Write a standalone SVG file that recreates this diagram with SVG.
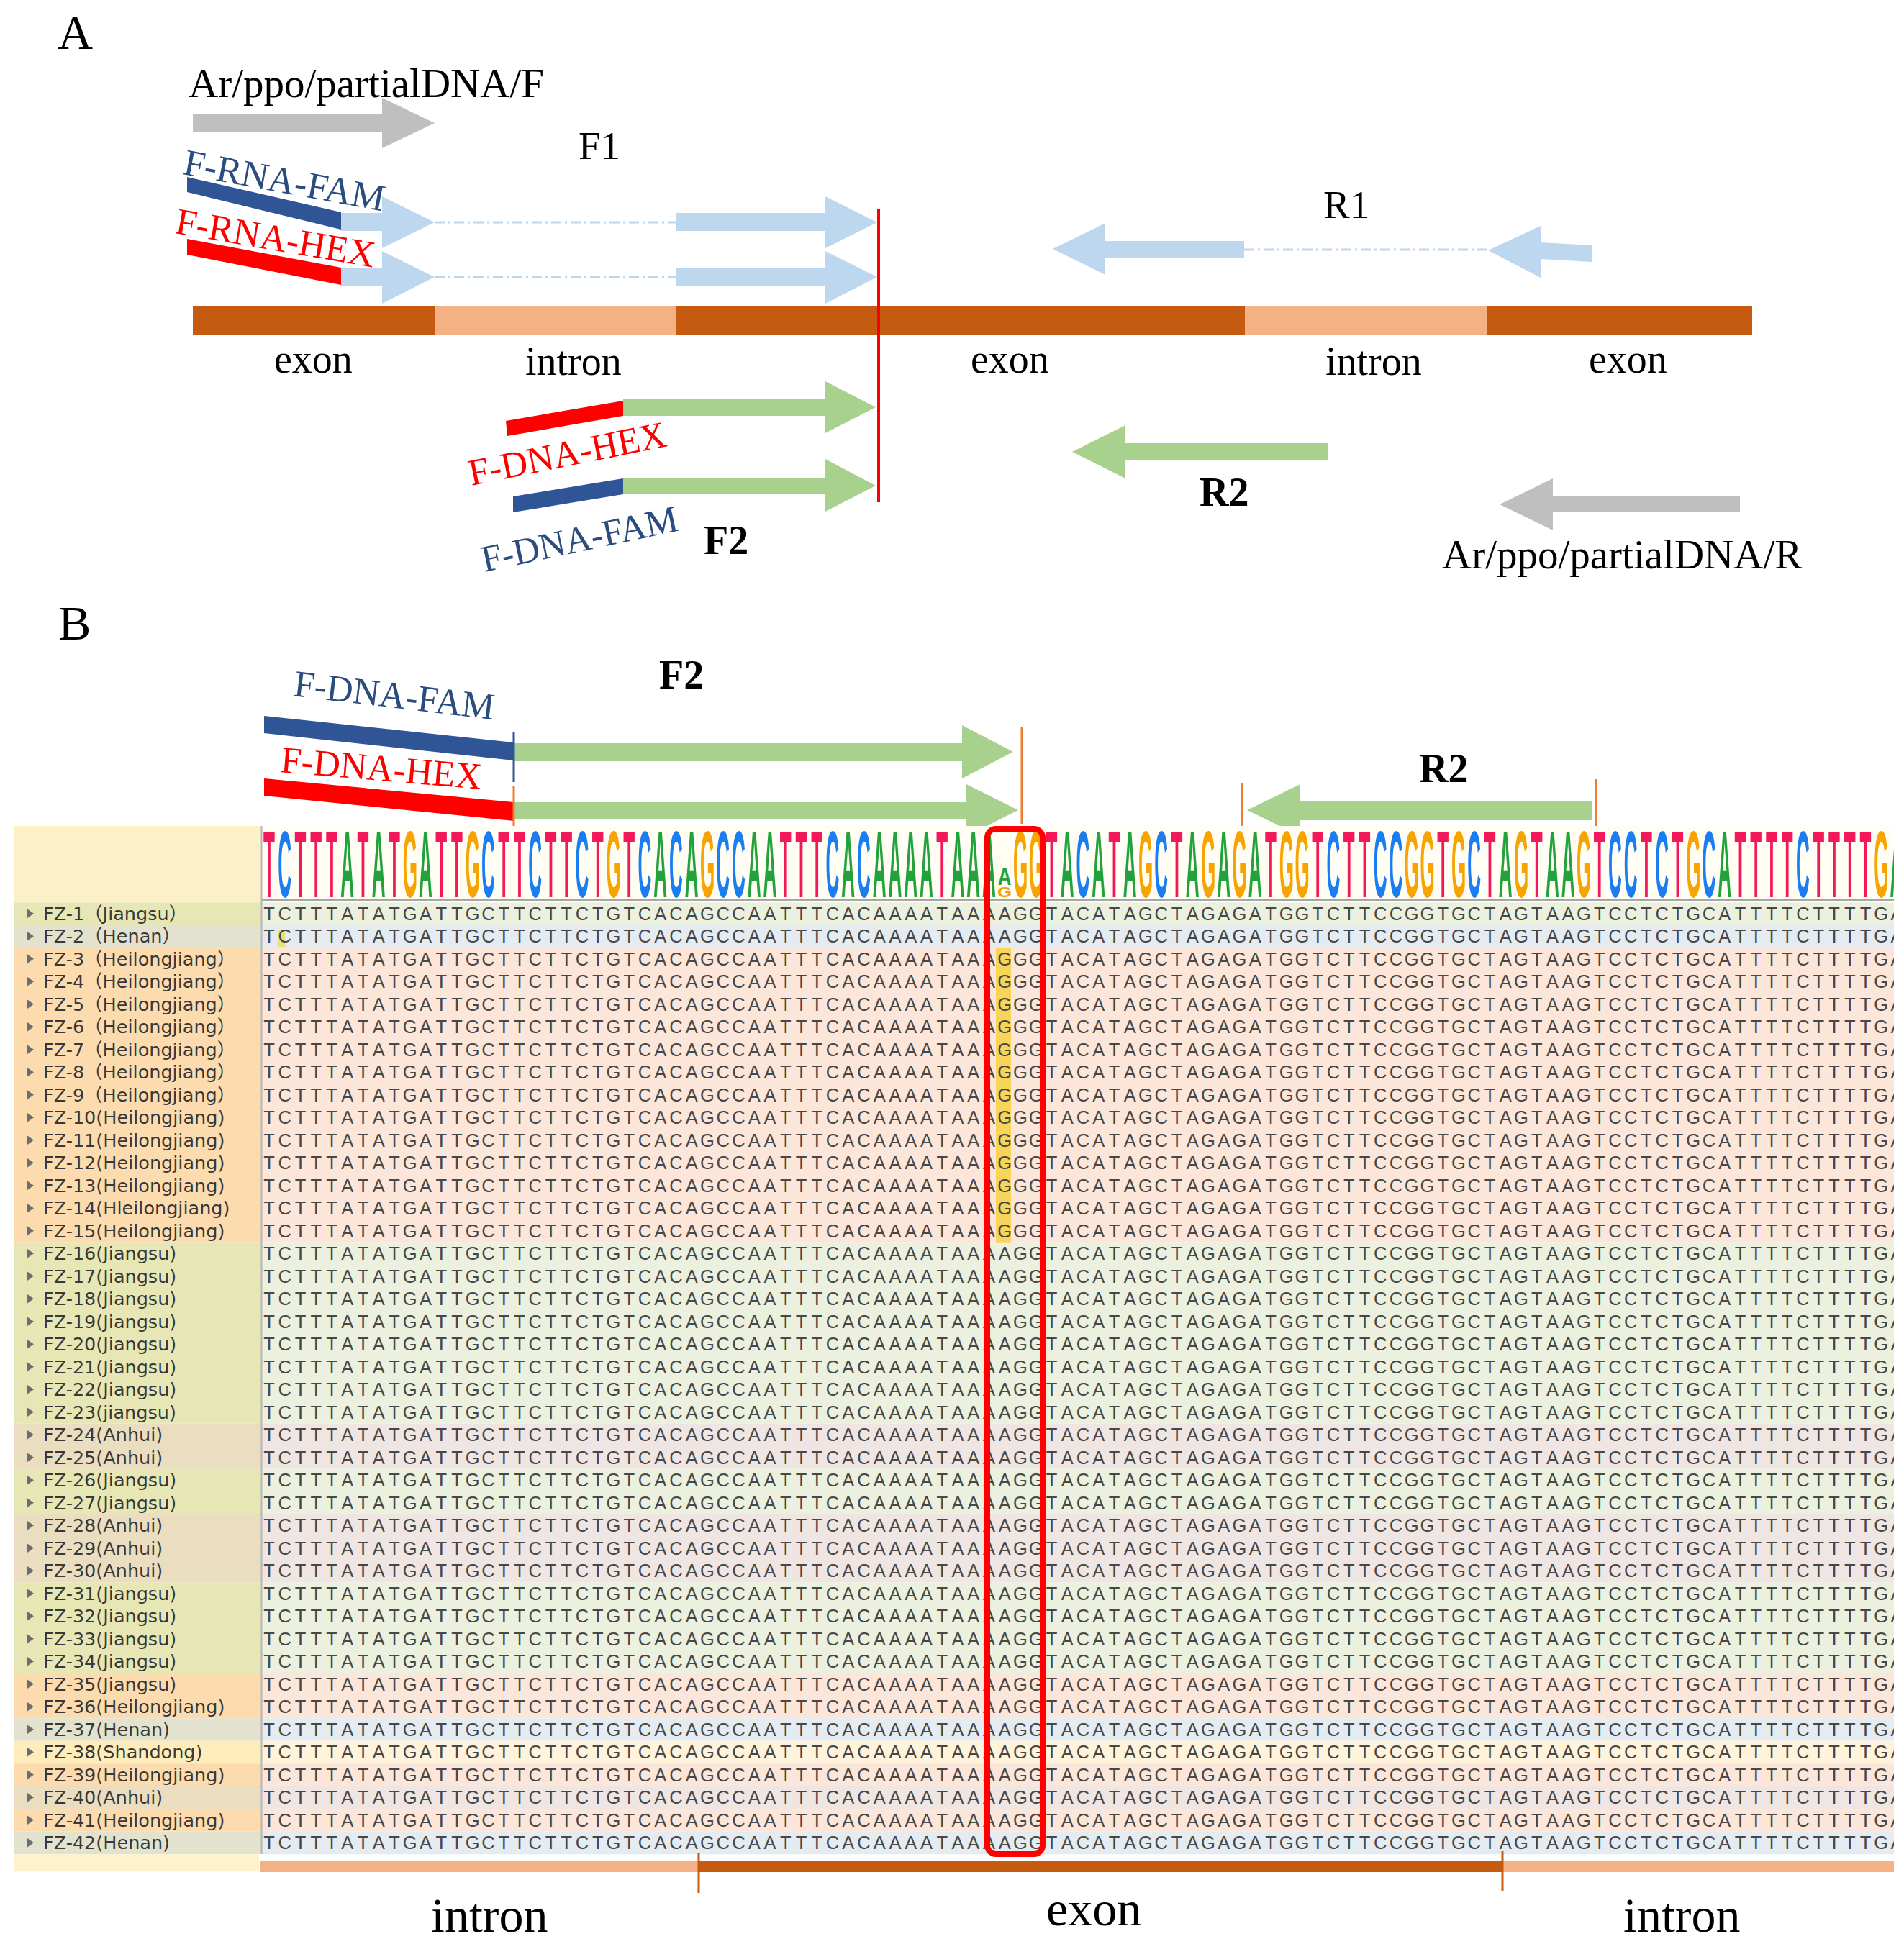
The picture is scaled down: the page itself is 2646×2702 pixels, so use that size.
<svg xmlns="http://www.w3.org/2000/svg" width="2646" height="2702" viewBox="0 0 2646 2702">
<defs>
<style>
.serif{font-family:"Liberation Serif","Times New Roman",serif;fill:#000}
.fam{fill:#2B4C7E}
.hex{fill:#FF0000}
.lb{fill:#BDD7EE}
.gr{fill:#A9D18E}
.gy{fill:#BFBFBF}
.dd{stroke:#BDD7EE;stroke-width:3;stroke-dasharray:14 5 3 5;fill:none}
.ex{fill:#C55A11}
.in{fill:#F4B183}
.lbl{font-family:"DejaVu Sans","Noto Sans CJK SC",sans-serif;font-size:25.5px;fill:#383838}
.logo{font-family:"Liberation Sans",Arial,sans-serif;font-size:26px;font-weight:bold;text-anchor:middle}
.a{fill:#22A23A}.c{fill:#1A7EF2}.g{fill:#F7A400}.t{fill:#F2185A}
.tri{fill:#6E6E6E}
.ol{stroke:#ED7D31;stroke-width:3}
.jl{fill:#E7E7B6}.js{fill:#EBF1DE}
.hl{fill:#E3E2CE}.hs{fill:#E4EBF1}
.ll{fill:#FCDCAF}.ls{fill:#FCE6D9}
.nl{fill:#EADDC0}.ns{fill:#EFE6E4}
.sl{fill:#FEEDBA}.ss{fill:#FFF3DB}
</style>
<clipPath id="seqclip"><rect x="364" y="-10000" width="2268" height="20000"/></clipPath>
<path id="tri" class="tri" d="M37,-7 L47,0 L37,7Z"/>
<text id="rowA" font-family="Liberation Sans, Arial, sans-serif" font-size="25.5" fill="#474747" text-anchor="middle" x="374 395.75 417.5 439.25 461 482.75 504.5 526.25 548 569.75 591.5 613.25 635 656.75 678.5 700.25 722 743.75 765.5 787.25 809 830.75 852.5 874.25 896 917.75 939.5 961.25 983 1004.75 1026.5 1048.25 1070 1091.75 1113.5 1135.25 1157 1178.75 1200.5 1222.25 1244 1265.75 1287.5 1309.25 1331 1352.75 1374.5 1396.25 1418 1439.75 1461.5 1483.25 1505 1526.75 1548.5 1570.25 1592 1613.75 1635.5 1657.25 1679 1700.75 1722.5 1744.25 1766 1787.75 1809.5 1831.25 1853 1874.75 1896.5 1918.25 1940 1961.75 1983.5 2005.25 2027 2048.75 2070.5 2092.25 2114 2135.75 2157.5 2179.25 2201 2222.75 2244.5 2266.25 2288 2309.75 2331.5 2353.25 2375 2396.75 2418.5 2440.25 2462 2483.75 2505.5 2527.25 2549 2570.75 2592.5 2614.25 2636" y="0">TCTTTATATGATTGCTTCTTCTGTCACAGCCAATTTCACAAAATAAAAGGTACATAGCTAGAGATGGTCTTCCGGTGCTAGTAAGTCCTCTGCATTTTCTTTTGA</text>
<text id="rowG" font-family="Liberation Sans, Arial, sans-serif" font-size="25.5" fill="#474747" text-anchor="middle" x="374 395.75 417.5 439.25 461 482.75 504.5 526.25 548 569.75 591.5 613.25 635 656.75 678.5 700.25 722 743.75 765.5 787.25 809 830.75 852.5 874.25 896 917.75 939.5 961.25 983 1004.75 1026.5 1048.25 1070 1091.75 1113.5 1135.25 1157 1178.75 1200.5 1222.25 1244 1265.75 1287.5 1309.25 1331 1352.75 1374.5 1396.25 1418 1439.75 1461.5 1483.25 1505 1526.75 1548.5 1570.25 1592 1613.75 1635.5 1657.25 1679 1700.75 1722.5 1744.25 1766 1787.75 1809.5 1831.25 1853 1874.75 1896.5 1918.25 1940 1961.75 1983.5 2005.25 2027 2048.75 2070.5 2092.25 2114 2135.75 2157.5 2179.25 2201 2222.75 2244.5 2266.25 2288 2309.75 2331.5 2353.25 2375 2396.75 2418.5 2440.25 2462 2483.75 2505.5 2527.25 2549 2570.75 2592.5 2614.25 2636" y="0">TCTTTATATGATTGCTTCTTCTGTCACAGCCAATTTCACAAAATAAAGGGTACATAGCTAGAGATGGTCTTCCGGTGCTAGTAAGTCCTCTGCATTTTCTTTTGA</text>
</defs>
<rect x="0" y="0" width="2646" height="2702" fill="#FFFFFF"/>

<!-- ===== Panel A ===== -->
<g id="panelA-label"><text class="serif" x="80" y="68" font-size="68">A</text></g>

<g id="gene-A">
<rect class="ex" x="268" y="425" width="2167" height="41"/>
<rect class="in" x="605" y="425" width="335" height="41"/>
<rect class="in" x="1730" y="425" width="336" height="41"/>
<text class="serif" x="381" y="518" font-size="56">exon</text>
<text class="serif" x="730" y="521" font-size="56">intron</text>
<text class="serif" x="1349" y="518" font-size="56">exon</text>
<text class="serif" x="1842" y="521" font-size="56">intron</text>
<text class="serif" x="2208" y="518" font-size="56">exon</text>
</g>

<g id="primer-partialDNA-F">
<polygon class="gy" points="268,158 531,158 531,136 604,171 531,206 531,184 268,184"/>
<text class="serif" x="262" y="135" font-size="57">Ar/ppo/partialDNA/F</text>
</g>

<g id="primer-F1">
<text class="serif" x="804" y="221" font-size="55">F1</text>
<polygon fill="#2F5597" points="260,246 474,295 474,319 260,267"/>
<polygon fill="#FF0000" points="260,332 474,372 474,396 260,354"/>
<polygon class="lb" points="474,296 531,296 531,273 604,309 531,345 531,321 474,321"/>
<polygon class="lb" points="939,296 1147,296 1147,273 1219,309 1147,345 1147,321 939,321"/>
<polygon class="lb" points="474,373 531,373 531,349 604,385 531,422 531,398 474,398"/>
<polygon class="lb" points="939,373 1147,373 1147,349 1219,385 1147,422 1147,398 939,398"/>
<text class="serif fam" font-size="52" transform="translate(253,242) rotate(10.5)" textLength="283" lengthAdjust="spacingAndGlyphs">F-RNA-FAM</text>
<text class="serif hex" font-size="52" transform="translate(242,324) rotate(9.8)" textLength="280" lengthAdjust="spacingAndGlyphs">F-RNA-HEX</text>
</g>

<g id="primer-R1">
<text class="serif" x="1839" y="303" font-size="55">R1</text>
<polygon class="lb" points="1463,346 1536,310 1536,335 1729,335 1729,358 1536,358 1536,382"/>
<polygon class="lb" points="2068,348 2141,314 2141,337 2212,341 2212,364 2141,360 2141,386"/>
</g>

<g id="primer-F2-A">
<polygon fill="#FF0000" points="703,585 866,557 866,578 705,606"/>
<polygon fill="#2F5597" points="713,690 866,665 866,687 713,712"/>
<polygon class="gr" points="866,555 1147,555 1147,530 1217,566 1147,602 1147,578 866,578"/>
<polygon class="gr" points="866,664 1147,664 1147,638 1217,675 1147,711 1147,687 866,687"/>
<text class="serif hex" font-size="52" transform="translate(655,675) rotate(-11.4)" textLength="279" lengthAdjust="spacingAndGlyphs">F-DNA-HEX</text>
<text class="serif fam" font-size="52" transform="translate(673,795) rotate(-12)" textLength="278" lengthAdjust="spacingAndGlyphs">F-DNA-FAM</text>
<text class="serif" x="978" y="770" font-size="56" font-weight="bold">F2</text>
</g>

<g id="primer-R2-A">
<polygon class="gr" points="1490,628 1564,591 1564,616 1845,616 1845,640 1564,640 1564,665"/>
<text class="serif" x="1667" y="703" font-size="56" font-weight="bold">R2</text>
</g>

<g id="primer-partialDNA-R">
<polygon class="gy" points="2084,701 2158,665 2158,689 2418,689 2418,712 2158,712 2158,737"/>
<text class="serif" x="2004" y="790" font-size="57">Ar/ppo/partialDNA/R</text>
</g>

<g id="connectors-A">
<line class="dd" x1="604" y1="309" x2="939" y2="309"/>
<line class="dd" x1="604" y1="385" x2="939" y2="385"/>
<line class="dd" x1="1729" y1="347" x2="2068" y2="347"/>
<line x1="1221" y1="290" x2="1221" y2="698" stroke="#FF0000" stroke-width="4"/>
</g>

<!-- ===== Panel B ===== -->
<g id="panelB-label"><text class="serif" x="81" y="889" font-size="68">B</text></g>

<g id="primer-F2-B">
<polygon fill="#2F5597" points="367,995 714,1032 714,1057 367,1019"/>
<polygon fill="#FF0000" points="367,1082 714,1115 714,1141 367,1106"/>
<polygon class="gr" points="714,1033 1337,1033 1337,1008 1408,1045 1337,1082 1337,1058 714,1058"/>
<polygon class="gr" points="714,1115 1343,1115 1343,1090 1415,1126 1343,1162 1343,1138 714,1138"/>
<text class="serif fam" font-size="52" transform="translate(407,967) rotate(6.8)" textLength="280" lengthAdjust="spacingAndGlyphs">F-DNA-FAM</text>
<text class="serif hex" font-size="52" transform="translate(389,1073) rotate(4.9)" textLength="280" lengthAdjust="spacingAndGlyphs">F-DNA-HEX</text>
<text class="serif" x="916" y="957" font-size="56" font-weight="bold">F2</text>
</g>

<g id="primer-R2-B">
<polygon class="gr" points="1733,1126 1807,1090 1807,1113 2213,1113 2213,1140 1807,1140 1807,1162"/>
<text class="serif" x="1972" y="1087" font-size="56" font-weight="bold">R2</text>
</g>

<g id="markers-B">
<line x1="714" y1="1017" x2="714" y2="1087" stroke="#2F5597" stroke-width="3"/>
<line class="ol" x1="714" y1="1092" x2="714" y2="1162"/>
<line class="ol" x1="1420" y1="1011" x2="1420" y2="1145"/>
<line class="ol" x1="1726" y1="1089" x2="1726" y2="1153"/>
<line class="ol" x1="2218" y1="1083" x2="2218" y2="1173"/>
</g>

<g id="alignment-header">
<rect x="20" y="1148" width="343" height="106" fill="#FDEFC6"/>
<rect x="364" y="1148" width="2268" height="104" fill="#FFFDF4"/>
<line x1="364" y1="1251.5" x2="2632" y2="1251.5" stroke="#A6A6A6" stroke-width="3"/>
</g>

<g id="row-backgrounds">
<rect class="jl" x="20" y="1254.25" width="343" height="31.5"/><rect class="js" x="364" y="1254.25" width="2268" height="31.5"/>
<rect class="hl" x="20" y="1285.75" width="343" height="31.5"/><rect class="hs" x="364" y="1285.75" width="2268" height="31.5"/>
<rect class="ll" x="20" y="1317.25" width="343" height="409.5"/><rect class="ls" x="364" y="1317.25" width="2268" height="409.5"/>
<rect class="jl" x="20" y="1726.75" width="343" height="252"/><rect class="js" x="364" y="1726.75" width="2268" height="252"/>
<rect class="nl" x="20" y="1978.75" width="343" height="63"/><rect class="ns" x="364" y="1978.75" width="2268" height="63"/>
<rect class="jl" x="20" y="2041.75" width="343" height="63"/><rect class="js" x="364" y="2041.75" width="2268" height="63"/>
<rect class="nl" x="20" y="2104.75" width="343" height="94.5"/><rect class="ns" x="364" y="2104.75" width="2268" height="94.5"/>
<rect class="jl" x="20" y="2199.25" width="343" height="126"/><rect class="js" x="364" y="2199.25" width="2268" height="126"/>
<rect class="ll" x="20" y="2325.25" width="343" height="63"/><rect class="ls" x="364" y="2325.25" width="2268" height="63"/>
<rect class="hl" x="20" y="2388.25" width="343" height="31.5"/><rect class="hs" x="364" y="2388.25" width="2268" height="31.5"/>
<rect class="sl" x="20" y="2419.75" width="343" height="31.5"/><rect class="ss" x="364" y="2419.75" width="2268" height="31.5"/>
<rect class="ll" x="20" y="2451.25" width="343" height="31.5"/><rect class="ls" x="364" y="2451.25" width="2268" height="31.5"/>
<rect class="nl" x="20" y="2482.75" width="343" height="31.5"/><rect class="ns" x="364" y="2482.75" width="2268" height="31.5"/>
<rect class="ll" x="20" y="2514.25" width="343" height="31.5"/><rect class="ls" x="364" y="2514.25" width="2268" height="31.5"/>
<rect class="hl" x="20" y="2545.75" width="343" height="31.5"/><rect class="hs" x="364" y="2545.75" width="2268" height="31.5"/>
<rect x="20" y="2577.25" width="340" height="24" fill="#FEF2CC"/>
<line x1="363.5" y1="1148" x2="363.5" y2="2577" stroke="#B5B5B5" stroke-width="2"/>
<rect x="1384" y="1317.25" width="21" height="409.5" fill="#F8D458"/>
<rect x="387" y="1292" width="9" height="24" fill="#E4E27A"/>
</g>

<g id="sequence-logo" clip-path="url(#seqclip)">
<g transform="translate(0,1247) scale(1,5.1)">
<text class="logo" y="0" x="374 395.75 417.5 439.25 461 482.75 504.5 526.25 548 569.75 591.5 613.25 635 656.75 678.5 700.25 722 743.75 765.5 787.25 809 830.75 852.5 874.25 896 917.75 939.5 961.25 983 1004.75 1026.5 1048.25 1070 1091.75 1113.5 1135.25 1157 1178.75 1200.5 1222.25 1244 1265.75 1287.5 1309.25 1331 1352.75 1374.5 1418 1439.75 1461.5 1483.25 1505 1526.75 1548.5 1570.25 1592 1613.75 1635.5 1657.25 1679 1700.75 1722.5 1744.25 1766 1787.75 1809.5 1831.25 1853 1874.75 1896.5 1918.25 1940 1961.75 1983.5 2005.25 2027 2048.75 2070.5 2092.25 2114 2135.75 2157.5 2179.25 2201 2222.75 2244.5 2266.25 2288 2309.75 2331.5 2353.25 2375 2396.75 2418.5 2440.25 2462 2483.75 2505.5 2527.25 2549 2570.75 2592.5 2614.25 2636"><tspan class="t">T</tspan><tspan class="c">C</tspan><tspan class="t">TTT</tspan><tspan class="a">A</tspan><tspan class="t">T</tspan><tspan class="a">A</tspan><tspan class="t">T</tspan><tspan class="g">G</tspan><tspan class="a">A</tspan><tspan class="t">TT</tspan><tspan class="g">G</tspan><tspan class="c">C</tspan><tspan class="t">TT</tspan><tspan class="c">C</tspan><tspan class="t">TT</tspan><tspan class="c">C</tspan><tspan class="t">T</tspan><tspan class="g">G</tspan><tspan class="t">T</tspan><tspan class="c">C</tspan><tspan class="a">A</tspan><tspan class="c">C</tspan><tspan class="a">A</tspan><tspan class="g">G</tspan><tspan class="c">CC</tspan><tspan class="a">AA</tspan><tspan class="t">TTT</tspan><tspan class="c">C</tspan><tspan class="a">A</tspan><tspan class="c">C</tspan><tspan class="a">AAAA</tspan><tspan class="t">T</tspan><tspan class="a">AAA</tspan><tspan class="g">GG</tspan><tspan class="t">T</tspan><tspan class="a">A</tspan><tspan class="c">C</tspan><tspan class="a">A</tspan><tspan class="t">T</tspan><tspan class="a">A</tspan><tspan class="g">G</tspan><tspan class="c">C</tspan><tspan class="t">T</tspan><tspan class="a">A</tspan><tspan class="g">G</tspan><tspan class="a">A</tspan><tspan class="g">G</tspan><tspan class="a">A</tspan><tspan class="t">T</tspan><tspan class="g">GG</tspan><tspan class="t">T</tspan><tspan class="c">C</tspan><tspan class="t">TT</tspan><tspan class="c">CC</tspan><tspan class="g">GG</tspan><tspan class="t">T</tspan><tspan class="g">G</tspan><tspan class="c">C</tspan><tspan class="t">T</tspan><tspan class="a">A</tspan><tspan class="g">G</tspan><tspan class="t">T</tspan><tspan class="a">AA</tspan><tspan class="g">G</tspan><tspan class="t">T</tspan><tspan class="c">CC</tspan><tspan class="t">T</tspan><tspan class="c">C</tspan><tspan class="t">T</tspan><tspan class="g">G</tspan><tspan class="c">C</tspan><tspan class="a">A</tspan><tspan class="t">TTTT</tspan><tspan class="c">C</tspan><tspan class="t">TTTT</tspan><tspan class="g">G</tspan><tspan class="a">A</tspan></text>
</g>
<g transform="translate(0,1230) scale(1,1.35)"><text class="logo a" x="1396.25" y="0">A</text></g>
<g transform="translate(0,1247) scale(1,0.8)"><text class="logo g" x="1396.25" y="0">G</text></g>
</g>

<g id="rows">
<g id="FZ-1"><use href="#tri" y="1269.75"/><text class="lbl" x="60" y="1278.75">FZ-1（Jiangsu）</text><g clip-path="url(#seqclip)"><use href="#rowA" y="1278.75"/></g></g>
<g id="FZ-2"><use href="#tri" y="1301.25"/><text class="lbl" x="60" y="1310.25">FZ-2（Henan）</text><g clip-path="url(#seqclip)"><use href="#rowA" y="1310.25"/></g></g>
<g id="FZ-3"><use href="#tri" y="1332.75"/><text class="lbl" x="60" y="1341.75">FZ-3（Heilongjiang）</text><g clip-path="url(#seqclip)"><use href="#rowG" y="1341.75"/></g></g>
<g id="FZ-4"><use href="#tri" y="1364.25"/><text class="lbl" x="60" y="1373.25">FZ-4（Heilongjiang）</text><g clip-path="url(#seqclip)"><use href="#rowG" y="1373.25"/></g></g>
<g id="FZ-5"><use href="#tri" y="1395.75"/><text class="lbl" x="60" y="1404.75">FZ-5（Heilongjiang）</text><g clip-path="url(#seqclip)"><use href="#rowG" y="1404.75"/></g></g>
<g id="FZ-6"><use href="#tri" y="1427.25"/><text class="lbl" x="60" y="1436.25">FZ-6（Heilongjiang）</text><g clip-path="url(#seqclip)"><use href="#rowG" y="1436.25"/></g></g>
<g id="FZ-7"><use href="#tri" y="1458.75"/><text class="lbl" x="60" y="1467.75">FZ-7（Heilongjiang）</text><g clip-path="url(#seqclip)"><use href="#rowG" y="1467.75"/></g></g>
<g id="FZ-8"><use href="#tri" y="1490.25"/><text class="lbl" x="60" y="1499.25">FZ-8（Heilongjiang）</text><g clip-path="url(#seqclip)"><use href="#rowG" y="1499.25"/></g></g>
<g id="FZ-9"><use href="#tri" y="1521.75"/><text class="lbl" x="60" y="1530.75">FZ-9（Heilongjiang）</text><g clip-path="url(#seqclip)"><use href="#rowG" y="1530.75"/></g></g>
<g id="FZ-10"><use href="#tri" y="1553.25"/><text class="lbl" x="60" y="1562.25">FZ-10(Heilongjiang)</text><g clip-path="url(#seqclip)"><use href="#rowG" y="1562.25"/></g></g>
<g id="FZ-11"><use href="#tri" y="1584.75"/><text class="lbl" x="60" y="1593.75">FZ-11(Heilongjiang)</text><g clip-path="url(#seqclip)"><use href="#rowG" y="1593.75"/></g></g>
<g id="FZ-12"><use href="#tri" y="1616.25"/><text class="lbl" x="60" y="1625.25">FZ-12(Heilongjiang)</text><g clip-path="url(#seqclip)"><use href="#rowG" y="1625.25"/></g></g>
<g id="FZ-13"><use href="#tri" y="1647.75"/><text class="lbl" x="60" y="1656.75">FZ-13(Heilongjiang)</text><g clip-path="url(#seqclip)"><use href="#rowG" y="1656.75"/></g></g>
<g id="FZ-14"><use href="#tri" y="1679.25"/><text class="lbl" x="60" y="1688.25">FZ-14(Hleilongjiang)</text><g clip-path="url(#seqclip)"><use href="#rowG" y="1688.25"/></g></g>
<g id="FZ-15"><use href="#tri" y="1710.75"/><text class="lbl" x="60" y="1719.75">FZ-15(Heilongjiang)</text><g clip-path="url(#seqclip)"><use href="#rowG" y="1719.75"/></g></g>
<g id="FZ-16"><use href="#tri" y="1742.25"/><text class="lbl" x="60" y="1751.25">FZ-16(Jiangsu)</text><g clip-path="url(#seqclip)"><use href="#rowA" y="1751.25"/></g></g>
<g id="FZ-17"><use href="#tri" y="1773.75"/><text class="lbl" x="60" y="1782.75">FZ-17(Jiangsu)</text><g clip-path="url(#seqclip)"><use href="#rowA" y="1782.75"/></g></g>
<g id="FZ-18"><use href="#tri" y="1805.25"/><text class="lbl" x="60" y="1814.25">FZ-18(Jiangsu)</text><g clip-path="url(#seqclip)"><use href="#rowA" y="1814.25"/></g></g>
<g id="FZ-19"><use href="#tri" y="1836.75"/><text class="lbl" x="60" y="1845.75">FZ-19(Jiangsu)</text><g clip-path="url(#seqclip)"><use href="#rowA" y="1845.75"/></g></g>
<g id="FZ-20"><use href="#tri" y="1868.25"/><text class="lbl" x="60" y="1877.25">FZ-20(Jiangsu)</text><g clip-path="url(#seqclip)"><use href="#rowA" y="1877.25"/></g></g>
<g id="FZ-21"><use href="#tri" y="1899.75"/><text class="lbl" x="60" y="1908.75">FZ-21(Jiangsu)</text><g clip-path="url(#seqclip)"><use href="#rowA" y="1908.75"/></g></g>
<g id="FZ-22"><use href="#tri" y="1931.25"/><text class="lbl" x="60" y="1940.25">FZ-22(Jiangsu)</text><g clip-path="url(#seqclip)"><use href="#rowA" y="1940.25"/></g></g>
<g id="FZ-23"><use href="#tri" y="1962.75"/><text class="lbl" x="60" y="1971.75">FZ-23(jiangsu)</text><g clip-path="url(#seqclip)"><use href="#rowA" y="1971.75"/></g></g>
<g id="FZ-24"><use href="#tri" y="1994.25"/><text class="lbl" x="60" y="2003.25">FZ-24(Anhui)</text><g clip-path="url(#seqclip)"><use href="#rowA" y="2003.25"/></g></g>
<g id="FZ-25"><use href="#tri" y="2025.75"/><text class="lbl" x="60" y="2034.75">FZ-25(Anhui)</text><g clip-path="url(#seqclip)"><use href="#rowA" y="2034.75"/></g></g>
<g id="FZ-26"><use href="#tri" y="2057.25"/><text class="lbl" x="60" y="2066.25">FZ-26(Jiangsu)</text><g clip-path="url(#seqclip)"><use href="#rowA" y="2066.25"/></g></g>
<g id="FZ-27"><use href="#tri" y="2088.75"/><text class="lbl" x="60" y="2097.75">FZ-27(Jiangsu)</text><g clip-path="url(#seqclip)"><use href="#rowA" y="2097.75"/></g></g>
<g id="FZ-28"><use href="#tri" y="2120.25"/><text class="lbl" x="60" y="2129.25">FZ-28(Anhui)</text><g clip-path="url(#seqclip)"><use href="#rowA" y="2129.25"/></g></g>
<g id="FZ-29"><use href="#tri" y="2151.75"/><text class="lbl" x="60" y="2160.75">FZ-29(Anhui)</text><g clip-path="url(#seqclip)"><use href="#rowA" y="2160.75"/></g></g>
<g id="FZ-30"><use href="#tri" y="2183.25"/><text class="lbl" x="60" y="2192.25">FZ-30(Anhui)</text><g clip-path="url(#seqclip)"><use href="#rowA" y="2192.25"/></g></g>
<g id="FZ-31"><use href="#tri" y="2214.75"/><text class="lbl" x="60" y="2223.75">FZ-31(Jiangsu)</text><g clip-path="url(#seqclip)"><use href="#rowA" y="2223.75"/></g></g>
<g id="FZ-32"><use href="#tri" y="2246.25"/><text class="lbl" x="60" y="2255.25">FZ-32(Jiangsu)</text><g clip-path="url(#seqclip)"><use href="#rowA" y="2255.25"/></g></g>
<g id="FZ-33"><use href="#tri" y="2277.75"/><text class="lbl" x="60" y="2286.75">FZ-33(Jiangsu)</text><g clip-path="url(#seqclip)"><use href="#rowA" y="2286.75"/></g></g>
<g id="FZ-34"><use href="#tri" y="2309.25"/><text class="lbl" x="60" y="2318.25">FZ-34(Jiangsu)</text><g clip-path="url(#seqclip)"><use href="#rowA" y="2318.25"/></g></g>
<g id="FZ-35"><use href="#tri" y="2340.75"/><text class="lbl" x="60" y="2349.75">FZ-35(Jiangsu)</text><g clip-path="url(#seqclip)"><use href="#rowA" y="2349.75"/></g></g>
<g id="FZ-36"><use href="#tri" y="2372.25"/><text class="lbl" x="60" y="2381.25">FZ-36(Heilongjiang)</text><g clip-path="url(#seqclip)"><use href="#rowA" y="2381.25"/></g></g>
<g id="FZ-37"><use href="#tri" y="2403.75"/><text class="lbl" x="60" y="2412.75">FZ-37(Henan)</text><g clip-path="url(#seqclip)"><use href="#rowA" y="2412.75"/></g></g>
<g id="FZ-38"><use href="#tri" y="2435.25"/><text class="lbl" x="60" y="2444.25">FZ-38(Shandong)</text><g clip-path="url(#seqclip)"><use href="#rowA" y="2444.25"/></g></g>
<g id="FZ-39"><use href="#tri" y="2466.75"/><text class="lbl" x="60" y="2475.75">FZ-39(Heilongjiang)</text><g clip-path="url(#seqclip)"><use href="#rowA" y="2475.75"/></g></g>
<g id="FZ-40"><use href="#tri" y="2498.25"/><text class="lbl" x="60" y="2507.25">FZ-40(Anhui)</text><g clip-path="url(#seqclip)"><use href="#rowA" y="2507.25"/></g></g>
<g id="FZ-41"><use href="#tri" y="2529.75"/><text class="lbl" x="60" y="2538.75">FZ-41(Heilongjiang)</text><g clip-path="url(#seqclip)"><use href="#rowA" y="2538.75"/></g></g>
<g id="FZ-42"><use href="#tri" y="2561.25"/><text class="lbl" x="60" y="2570.25">FZ-42(Henan)</text><g clip-path="url(#seqclip)"><use href="#rowA" y="2570.25"/></g></g>
</g>

<g id="snp-box"><rect x="1372" y="1152" width="77" height="1425" rx="12" fill="none" stroke="#FF0000" stroke-width="8"/></g>

<g id="gene-B">
<rect class="in" x="362" y="2587" width="2270" height="15"/>
<rect class="ex" x="971" y="2587" width="1117" height="15"/>
<line x1="971" y1="2575" x2="971" y2="2631" stroke="#C55A11" stroke-width="3"/>
<line x1="2088" y1="2573" x2="2088" y2="2629" stroke="#C55A11" stroke-width="3"/>
<text class="serif" x="599" y="2685" font-size="68">intron</text>
<text class="serif" x="1454" y="2676" font-size="68">exon</text>
<text class="serif" x="2256" y="2685" font-size="68">intron</text>
</g>
</svg>
